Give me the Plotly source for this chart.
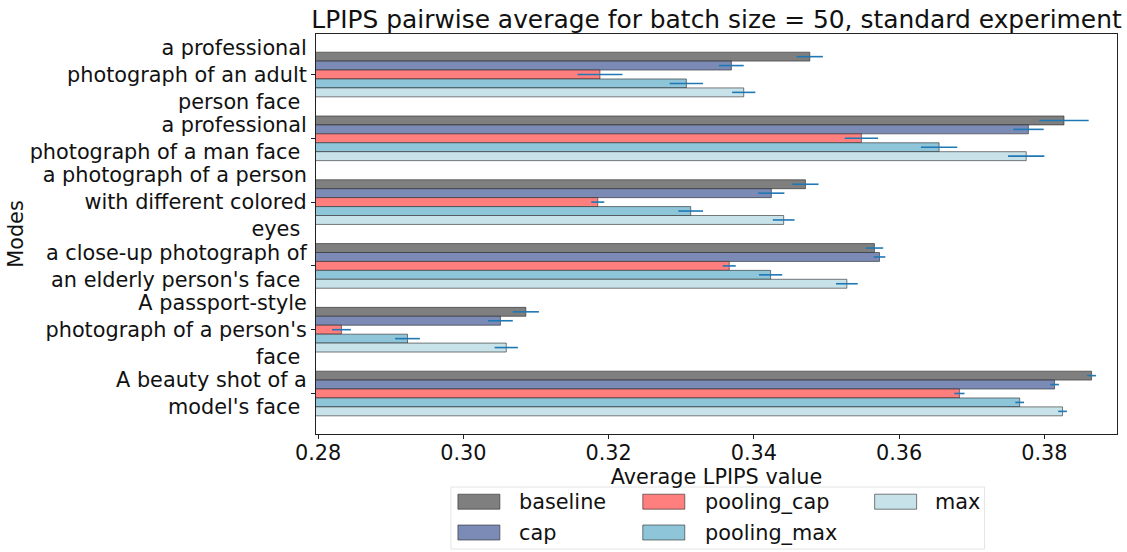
import plotly.graph_objects as go

# ---------------- data ----------------
modes = [
    "a professional<br>photograph of an adult<br>person face\u00a0",
    "a professional<br>photograph of a man face\u00a0",
    "a photograph of a person<br>with different colored<br>eyes\u00a0",
    "a close-up photograph of<br>an elderly person's face\u00a0",
    "A passport-style<br>photograph of a person's<br>face\u00a0",
    "A beauty shot of a<br>model's face\u00a0",
]
series_names = ["baseline", "cap", "pooling_cap", "pooling_max", "max"]

baseline = [0.3477, 0.3827, 0.3471, 0.3566, 0.3086, 0.3865]
baseline_err = [0.0018, 0.0034, 0.0018, 0.0012, 0.0018, 0.0006]
cap = [0.3369, 0.3778, 0.3424, 0.3573, 0.3051, 0.3814]
cap_err = [0.0017, 0.0021, 0.0018, 0.0008, 0.0017, 0.0006]
pooling_cap = [0.3188, 0.3548, 0.3185, 0.3366, 0.2832, 0.3683]
pooling_cap_err = [0.0031, 0.0023, 0.0009, 0.0009, 0.0013, 0.0007]
pooling_max = [0.3307, 0.3655, 0.3313, 0.3423, 0.2923, 0.3766]
pooling_max_err = [0.0023, 0.0025, 0.0017, 0.0016, 0.0017, 0.0006]
max_vals = [0.3386, 0.3775, 0.3441, 0.3528, 0.3059, 0.3825]
max_err = [0.0016, 0.0025, 0.0015, 0.0015, 0.0016, 0.0006]

x_ticks = [0.28, 0.30, 0.32, 0.34, 0.36, 0.38]
x_tick_labels = ["0.28", "0.30", "0.32", "0.34", "0.36", "0.38"]

# ---------------- style ----------------
colors = ["#7f7f7f", "#7b8bb5", "#ff7f7f", "#8ec5d8", "#c8e2ea"]
edge = "rgba(40,40,40,0.6)"
err_color = "#1f77b4"
FONT = "DejaVu Sans"
FS = 20.8

values = [baseline, cap, pooling_cap, pooling_max, max_vals]
errors = [baseline_err, cap_err, pooling_cap_err, pooling_max_err, max_err]

W, H = 1127, 552
L, R, T, B = 316, 9.5, 34, 118

fig = go.Figure()
for name, vals, errs, col in zip(series_names, values, errors, colors):
    fig.add_trace(go.Bar(
        y=modes, x=vals, name=name, orientation="h",
        marker=dict(color=col, line=dict(color=edge, width=1)),
        error_x=dict(type="data", array=errs, color=err_color, thickness=1.6, width=0),
        showlegend=False,
    ))

fig.update_layout(
    width=W, height=H,
    margin=dict(l=L, r=R, t=T, b=B, autoexpand=False),
    paper_bgcolor="white", plot_bgcolor="white",
    barmode="group", bargap=0.3, bargroupgap=0,
    font=dict(family=FONT, size=FS, color="#111"),
    title=dict(text="LPIPS pairwise average for batch size = 50, standard experiment",
               x=0.5, xref="paper", xanchor="center",
               y=1 - 19 / H, yref="container", yanchor="middle",
               font=dict(size=24.9, family=FONT, color="#111")),
    xaxis=dict(range=[0.2797, 0.39], tickvals=x_ticks, ticktext=x_tick_labels,
               showline=True, linecolor="#222", linewidth=1, mirror=True,
               ticks="outside", ticklen=4, tickcolor="#222", showgrid=False, zeroline=False,
               title=dict(text="Average LPIPS value", standoff=0, font=dict(size=FS))),
    yaxis=dict(categoryorder="array", categoryarray=modes,
               range=[5.635, -0.635],
               showline=True, linecolor="#222", linewidth=1, mirror=True,
               ticks="outside", ticklen=4, tickcolor="#222", showgrid=False, zeroline=False,
               title=dict(text="Modes", standoff=0, font=dict(size=FS))),
    showlegend=False,
)
try:
    fig.update_xaxes(ticklabelstandoff=-4)
except Exception:
    pass

# ---------------- legend (matplotlib-style, 3 columns) ----------------
def px(xp):
    return (xp - L) / (W - L - R)

def py(yp):
    return (H - B - yp) / (H - T - B)

fig.add_shape(type="rect", xref="paper", yref="paper",
              x0=px(451), x1=px(985), y0=py(549), y1=py(487),
              line=dict(color="#e4e4e4", width=1), fillcolor="rgba(255,255,255,0.8)")
col_swatch_x = [458, 643, 875]
col_text_x = [517, 703, 933.5]
row_y = [501.7, 532.5]
for i, (name, col) in enumerate(zip(series_names, colors)):
    c, r = i // 2, i % 2
    fig.add_shape(type="rect", xref="paper", yref="paper",
                  x0=px(col_swatch_x[c]), x1=px(col_swatch_x[c] + 42),
                  y0=py(row_y[r] + 7.5), y1=py(row_y[r] - 7.5),
                  line=dict(color=edge, width=1), fillcolor=col)
    fig.add_annotation(xref="paper", yref="paper", x=px(col_text_x[c]), y=py(row_y[r]),
                       text=name, showarrow=False, xanchor="left", yanchor="middle",
                       font=dict(size=FS, family=FONT, color="#111"))

fig.write_html("out.html",
               config={"displayModeBar": False},
               post_script="document.body.style.margin='0';document.body.style.padding='0';"
                           "document.documentElement.style.overflow='hidden';")
